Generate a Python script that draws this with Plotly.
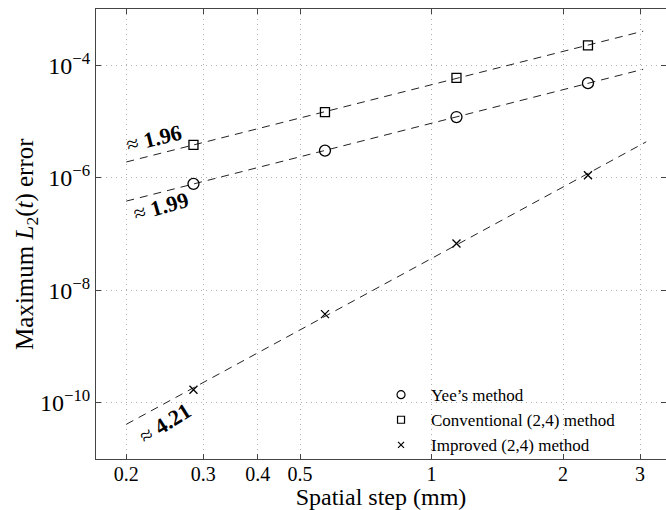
import numpy as np
import plotly.graph_objects as go

# ---- data ----
step_mm = [0.285, 0.57, 1.14, 2.28]
yee_err = [7.8e-7, 3.04e-6, 1.2e-5, 4.8e-5]
conv_err = [3.84e-6, 1.47e-5, 5.96e-5, 2.26e-4]
impr_err = [1.7e-10, 3.76e-9, 6.8e-8, 1.11e-6]
series_names = ["Yee\u2019s method", "Conventional (2,4) method", "Improved (2,4) method"]
slope_labels = ["1.99", "1.96", "4.21"]
fit_x_range = [[0.2, 3.05], [0.2, 3.05], [0.2, 3.1]]
x_tick_vals = [0.2, 0.3, 0.4, 0.5, 1, 2, 3]
x_tick_text = ["0.2", "0.3", "0.4", "0.5", "1", "2", "3"]
y_tick_vals = [1e-10, 1e-8, 1e-6, 1e-4]
y_tick_text = ["10<sup>\u221210</sup>", "10<sup>\u22128</sup>", "10<sup>\u22126</sup>", "10<sup>\u22124</sup>"]

FONT = "Liberation Serif"
symbols = ["circle-open", "square-open", "x-thin-open"]
sizes = [11, 9, 8]
legend_sizes = [8, 7, 6]

fig = go.Figure()
all_err = [yee_err, conv_err, impr_err]
for i, err in enumerate(all_err):
    # least squares fit in log-log space
    p = np.polyfit(np.log10(step_mm), np.log10(err), 1)
    fx = np.array(fit_x_range[i])
    fy = 10 ** np.polyval(p, np.log10(fx))
    fig.add_trace(go.Scatter(x=fx, y=fy, mode="lines",
                             line=dict(color="#222", width=1, dash="8px,6px"),
                             showlegend=False, hoverinfo="skip"))
    fig.add_trace(go.Scatter(x=step_mm, y=err, mode="markers", showlegend=False,
                             marker=dict(symbol=symbols[i], size=sizes[i], color="black",
                                         line=dict(color="black", width=1.3))))
for i in range(3):
    fig.add_trace(go.Scatter(x=[None], y=[None], mode="markers", name=series_names[i],
                             marker=dict(symbol=symbols[i], size=legend_sizes[i], color="black",
                                         line=dict(color="black", width=1.2))))

# slope annotations
ann_pos = [(-0.6185, -6.517, -16), (-0.6356, -5.304, -14), (-0.6104, -10.366, -32)]
for i, (ax_, ay_, ang) in enumerate(ann_pos):
    fig.add_annotation(x=ax_, y=ay_, xref="x", yref="y", showarrow=False,
                       text="\u2248 <b>" + slope_labels[i] + "</b>", textangle=ang,
                       font=dict(family=FONT, size=22, color="black"))

# y axis title
fig.add_annotation(x=-0.121, y=0.478, xref="paper", yref="paper", showarrow=False,
                   xanchor="center", yanchor="middle", textangle=-90,
                   text="Maximum <i>L</i><sub>2</sub>(<i>t</i>) error",
                   font=dict(family=FONT, size=25, color="black"))

axis_common = dict(showline=True, linecolor="#444", linewidth=1, mirror="ticks",
                   ticks="inside", ticklen=5, tickcolor="#444",
                   showgrid=True, gridcolor="#b0b0b0", griddash="1px,4px", gridwidth=1,
                   zeroline=False)
fig.update_xaxes(type="log", range=[np.log10(0.1705), np.log10(3.44)],
                 tickvals=x_tick_vals, ticktext=x_tick_text, ticklabelstandoff=-3,
                 tickfont=dict(family=FONT, size=20, color="black"),
                 title=dict(text="Spatial step (mm)", standoff=4,
                            font=dict(family=FONT, size=24, color="black")),
                 **axis_common)
fig.update_yaxes(type="log", range=[-11, -3],
                 tickvals=y_tick_vals, ticktext=y_tick_text,
                 tickfont=dict(family=FONT, size=24, color="black"),
                 **axis_common)
fig.update_layout(width=666, height=510, margin=dict(l=96, r=0, t=9, b=51),
                  paper_bgcolor="white", plot_bgcolor="white",
                  font=dict(family=FONT, color="black"),
                  legend=dict(x=0.4825, y=0.182, xanchor="left", yanchor="top",
                              bgcolor="rgba(0,0,0,0)", tracegroupgap=0, itemwidth=50,
                              font=dict(family=FONT, size=17, color="black")))
fig.write_html("out.html")
